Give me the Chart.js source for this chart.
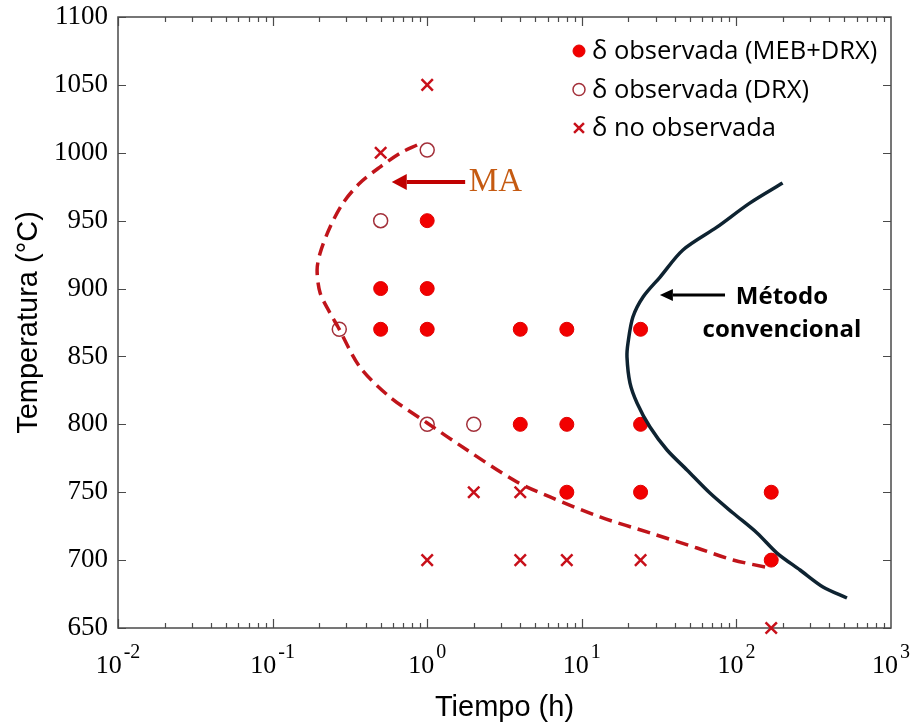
<!DOCTYPE html>
<html>
<head>
<meta charset="utf-8">
<script src="https://cdn.jsdelivr.net/npm/chart.js@4.4.1/dist/chart.umd.min.js"></script>
<style>
    html, body { margin: 0; padding: 0; background: #fff; }
</style>
</head>
<body>
<canvas id="ttt" width="912" height="727"></canvas>
<script>
// δ observada (MEB+DRX)
var filledTime = [1, 0.5, 1, 0.5, 1, 4, 8, 24, 4, 8, 24, 8, 24, 168, 168];
var filledTemp = [950, 900, 900, 870, 870, 870, 870, 870, 800, 800, 800, 750, 750, 750, 700];

// δ observada (DRX)
var openTime = [1, 0.5, 0.27, 1, 2];
var openTemp = [1002, 950, 870, 800, 800];

// δ no observada
var crossTime = [1, 0.5, 2, 4, 1, 4, 8, 24, 168];
var crossTemp = [1050, 1000, 750, 750, 700, 700, 700, 700, 650];

// curva MA (discontinua)
var maTime = [0.86, 0.67, 0.495, 0.367, 0.285, 0.235, 0.203, 0.194, 0.203, 0.235, 0.265, 0.367, 0.574, 1.0, 1.81, 3.81, 6.23, 13.1, 27.7, 55.7, 95.1, 165];
var maTemp = [1005.7, 999.8, 989.5, 977.7, 962.9, 945.2, 926.2, 913.7, 896.8, 882, 871.7, 842.2, 820.1, 801, 781.1, 757.5, 746.5, 731.8, 720, 708.9, 700.1, 694.2];

// curva método convencional
var convTime = [199, 122, 74.8, 45.1, 32.1, 24.9, 21.4, 19.9, 19.6, 20.5, 22.8, 27.6, 35.6, 47.9, 67.4, 95.1, 136, 183, 258, 363, 519];
var convTemp = [977.7, 962.9, 945.2, 928.4, 908.5, 893.8, 879, 859.9, 849.5, 830.4, 815.6, 798, 781.1, 766.4, 749.4, 734.7, 720, 705.2, 692.7, 680.2, 672.1];

// ejes
var timeTickExp = [-2, -1, 0, 1, 2, 3];
var tempTicks = [650, 700, 750, 800, 850, 900, 950, 1000, 1050, 1100];

function pts(xs, ys) {
    return xs.map(function (x, i) { return { x: x, y: ys[i] }; });
}

var serif = '"Liberation Serif", "Times New Roman", serif';
var sans = '"Liberation Sans", Arial, sans-serif';

// marco con marcas hacia dentro
var frameTicks = {
    id: 'frameTicks',
    beforeDatasetsDraw: function (chart) {
        var ctx = chart.ctx, a = chart.chartArea;
        var xs = chart.scales.x, ys = chart.scales.y;
        ctx.save();
        ctx.strokeStyle = '#4a4a4a';
        ctx.lineWidth = 1.5;
        ctx.strokeRect(a.left, a.top, a.right - a.left, a.bottom - a.top);
        ctx.lineWidth = 1.2;
        ctx.beginPath();
        tempTicks.forEach(function (v) {
            var py = Math.round(ys.getPixelForValue(v)) + 0.5;
            ctx.moveTo(a.left, py); ctx.lineTo(a.left + 8, py);
            ctx.moveTo(a.right, py); ctx.lineTo(a.right - 8, py);
        });
        for (var e = timeTickExp[0]; e < timeTickExp[timeTickExp.length - 1]; e++) {
            for (var m = 1; m <= 9; m++) {
                var px = Math.round(xs.getPixelForValue(m * Math.pow(10, e))) + 0.5;
                var len = m === 1 ? 9 : 5;
                ctx.moveTo(px, a.bottom); ctx.lineTo(px, a.bottom - len);
                ctx.moveTo(px, a.top); ctx.lineTo(px, a.top + len);
            }
        }
        ctx.stroke();
        ctx.restore();
    }
};

// etiquetas 10^n del eje x
var powerLabels = {
    id: 'powerLabels',
    afterDraw: function (chart) {
        var ctx = chart.ctx, a = chart.chartArea, xs = chart.scales.x;
        ctx.save();
        ctx.fillStyle = '#000';
        ctx.textBaseline = 'alphabetic';
        ctx.textAlign = 'left';
        timeTickExp.forEach(function (e) {
            var px = xs.getPixelForValue(Math.pow(10, e));
            ctx.font = '26px ' + serif;
            var wb = ctx.measureText('10').width;
            ctx.font = '20px ' + serif;
            var we = ctx.measureText(String(e)).width;
            var x0 = px - (wb + 2 + we) / 2;
            ctx.font = '26px ' + serif;
            ctx.fillText('10', x0, a.bottom + 45);
            ctx.font = '20px ' + serif;
            ctx.fillText(String(e), x0 + wb + 2, a.bottom + 30);
        });
        ctx.restore();
    }
};

function arrow(ctx, x1, y1, x2, y2, width, headLen, headHalf, color) {
    var ang = Math.atan2(y2 - y1, x2 - x1);
    var bx = x2 - headLen * Math.cos(ang), by = y2 - headLen * Math.sin(ang);
    ctx.save();
    ctx.strokeStyle = color;
    ctx.fillStyle = color;
    ctx.lineWidth = width;
    ctx.beginPath();
    ctx.moveTo(x1, y1);
    ctx.lineTo(bx, by);
    ctx.stroke();
    ctx.beginPath();
    ctx.moveTo(x2, y2);
    ctx.lineTo(bx - headHalf * Math.sin(ang), by + headHalf * Math.cos(ang));
    ctx.lineTo(bx + headHalf * Math.sin(ang), by - headHalf * Math.cos(ang));
    ctx.closePath();
    ctx.fill();
    ctx.restore();
}

// flechas, rótulos y leyenda
var notes = {
    id: 'notes',
    afterDatasetsDraw: function (chart) {
        var ctx = chart.ctx, xs = chart.scales.x, ys = chart.scales.y;
        var X = function (v) { return xs.getPixelForValue(v); };
        var Y = function (v) { return ys.getPixelForValue(v); };

        arrow(ctx, X(1.76), Y(978.5), X(0.59), Y(978.5), 4, 15, 8, '#c00000');
        arrow(ctx, X(84.4), Y(895.3), X(32), Y(895.3), 3, 13, 6, '#000');

        ctx.save();
        ctx.textBaseline = 'middle';
        ctx.fillStyle = '#c55a11';
        ctx.font = '33px ' + serif;
        ctx.textAlign = 'left';
        ctx.fillText('MA', X(1.86), Y(978.5));

        ctx.fillStyle = '#000';
        ctx.font = 'bold 24px "Open Sans", ' + sans;
        ctx.textAlign = 'center';
        ctx.fillText('Método', X(197), Y(894));
        ctx.fillText('convencional', X(197), Y(869));
        ctx.restore();

        // leyenda
        var a = chart.chartArea;
        var lx = a.left + 461, ly = a.top + 34;
        ctx.save();
        ctx.font = '25.5px "Open Sans", ' + sans;
        ctx.textBaseline = 'middle';
        ctx.textAlign = 'left';
        chart.data.datasets.forEach(function (ds) {
            if (!ds.label) return;
            ctx.fillStyle = ds.backgroundColor;
            ctx.strokeStyle = ds.borderColor;
            ctx.lineWidth = ds.borderWidth;
            Chart.helpers.drawPoint(ctx, {
                pointStyle: ds.pointStyle,
                radius: ds.pointStyle === 'crossRot' ? 7 : 6,
                borderWidth: ds.borderWidth,
                rotation: 0
            }, lx, ly);
            ctx.fillStyle = '#000';
            ctx.fillText(ds.label, lx + 13, ly + 1);
            ly += 38.5;
        });
        ctx.restore();
    }
};

new Chart(document.getElementById('ttt'), {
    type: 'scatter',
    data: {
        datasets: [
            {
                data: pts(maTime, maTemp),
                showLine: true,
                borderColor: '#c0141a',
                borderWidth: 3.5,
                borderDash: [13, 7],
                tension: 0.3,
                pointRadius: 0,
                order: 0
            },
            {
                data: pts(convTime, convTemp),
                showLine: true,
                borderColor: '#0e2331',
                borderWidth: 3.5,
                tension: 0.3,
                pointRadius: 0,
                order: 0
            },
            {
                label: 'δ observada (MEB+DRX)',
                data: pts(filledTime, filledTemp),
                pointStyle: 'circle',
                pointRadius: 7,
                backgroundColor: '#f20000',
                borderColor: '#e00000',
                borderWidth: 1,
                clip: false,
                order: 1
            },
            {
                label: 'δ observada (DRX)',
                data: pts(openTime, openTemp),
                pointStyle: 'circle',
                pointRadius: 7,
                backgroundColor: 'rgba(255,255,255,0)',
                borderColor: '#a3303a',
                borderWidth: 1.5,
                clip: false,
                order: 1
            },
            {
                label: 'δ no observada',
                data: pts(crossTime, crossTemp),
                pointStyle: 'crossRot',
                pointRadius: 8,
                backgroundColor: '#c8101a',
                borderColor: '#c8101a',
                borderWidth: 2.5,
                clip: false,
                order: 1
            }
        ]
    },
    options: {
        responsive: false,
        animation: false,
        events: [],
        layout: { padding: { left: 0, top: 17, right: 21, bottom: 0 } },
        plugins: {
            legend: { display: false },
            tooltip: { enabled: false }
        },
        scales: {
            x: {
                type: 'logarithmic',
                min: Math.pow(10, timeTickExp[0]),
                max: Math.pow(10, timeTickExp[timeTickExp.length - 1]),
                grid: { display: false },
                border: { display: false },
                ticks: { display: false },
                title: {
                    display: true,
                    text: 'Tiempo (h)',
                    color: '#000',
                    font: { family: sans, size: 29 },
                    padding: { top: 0, bottom: 2 }
                },
                afterFit: function (scale) {
                    scale.height = 99;
                    scale.paddingLeft = 0;
                    scale.paddingRight = 0;
                }
            },
            y: {
                min: tempTicks[0],
                max: tempTicks[tempTicks.length - 1],
                grid: { display: false, drawTicks: false },
                border: { display: false },
                ticks: {
                    stepSize: 50,
                    padding: 10,
                    color: '#000',
                    font: { family: serif, size: 27 },
                    callback: function (v) { return String(v); }
                },
                title: {
                    display: true,
                    text: 'Temperatura (°C)',
                    color: '#000',
                    font: { family: sans, size: 29 },
                    padding: { top: 12, bottom: 0 }
                },
                afterFit: function (scale) {
                    scale.width = 118;
                    scale.paddingTop = 0;
                    scale.paddingBottom = 0;
                }
            }
        }
    },
    plugins: [frameTicks, powerLabels, notes]
});
</script>
</body>
</html>
